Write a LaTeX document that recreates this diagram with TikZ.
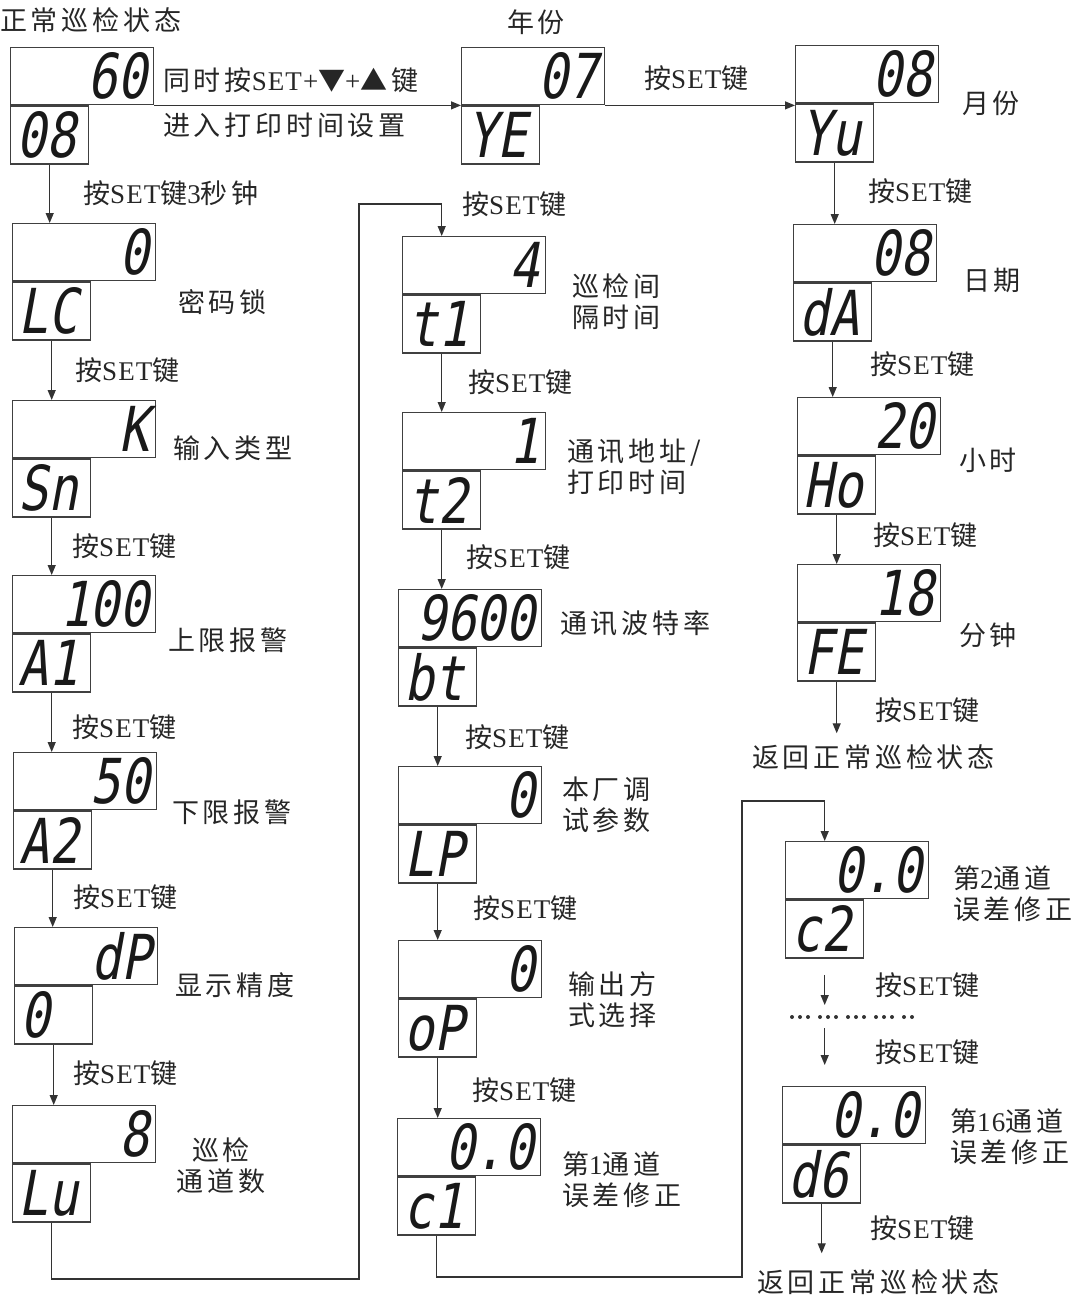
\documentclass[tikz,border=0pt]{standalone}
\usepackage{fontspec}
\setmainfont{Liberation Serif}
\newfontfamily\cjk[LetterSpace=14]{Noto Sans CJK SC}
\newfontfamily\latfont[LetterSpace=4]{Liberation Serif}
\newfontfamily\segfont[FakeStretch=0.8,FakeSlant=0.18]{DejaVu Sans Mono}
\usetikzlibrary{calc, arrows.meta}
\newcommand{\lat}[1]{{\latfont #1}}
\newcommand{\setkey}{按\lat{SET}键}
\newcommand{\readout}[5]{
    % #1: name
    % #2: x of left edge
    % #3: y of top edge
    % #4: upper reading
    % #5: lower reading
    \node[upper] (#1) at (#2,#3) {#4};
    \node[lower] (#1l) at (#1.south west) {#5};
}

\begin{document}
\begin{tikzpicture}[x=1pt, y=-1pt]
    \useasboundingbox (0,0) rectangle (1083,1298);
    % display boxes
    \tikzstyle{upper}=[draw=black!75, line width=1.4pt, anchor=north west, inner xsep=6pt, text width=131pt, align=right, minimum height=57pt, font=\segfont\fontsize{62}{62}\selectfont, text=black!90]
    \tikzstyle{lower}=[draw=black!75, line width=1.4pt, anchor=north west, inner xsep=6pt, text width=66pt, align=left, minimum height=58pt, font=\segfont\fontsize{62}{62}\selectfont, text=black!90]
    % labels
    \tikzstyle{note}=[inner sep=0, anchor=west, align=left, font=\cjk\fontsize{27}{31}\selectfont, text=black!85]
    \tikzstyle{flow}=[draw=black!80, line width=1.2pt, -{Triangle[length=10pt,width=8pt]}]

    % left column
    \readout{run}{10}{47}{60}{08}
    \readout{lc}{12}{223}{0}{LC}
    \readout{sn}{12}{400}{K}{Sn}
    \readout{aa}{12}{575}{100}{A1}
    \readout{ab}{13}{752}{50}{A2}
    \readout{dp}{14}{927}{dP}{0}
    \readout{lu}{12}{1105}{8}{Lu}
    % middle column
    \readout{ta}{402}{236}{4}{t1}
    \readout{tb}{402}{412}{1}{t2}
    \readout{bt}{398}{589}{9600}{bt}
    \readout{lp}{398}{766}{0}{LP}
    \readout{op}{398}{940}{0}{oP}
    \readout{ca}{397}{1118}{0.0}{c1}
    % top row and right column
    \readout{ye}{461}{47}{07}{YE}
    \readout{yu}{795}{45}{08}{Yu}
    \readout{da}{793}{224}{08}{dA}
    \readout{ho}{797}{397}{20}{Ho}
    \readout{fe}{797}{564}{18}{FE}
    \readout{cb}{785}{841}{0.0}{c2}
    \readout{dg}{782}{1086}{0.0}{d6}

    % texts of the left column
    \node[note] (title) at (0,20) {正常巡检状态};
    \node[note] (keysA) at (163,80) {同时按\lat{SET+}▼\lat{+}▲键};
    \node[note] (keysB) at (163,125) {进入打印时间设置};
    \node[note] (hold) at (83,193) {\setkey\lat{3}秒钟};
    \node[note] (lcT) at (178,302) {密码锁};
    \node[note] (k1) at (75,370) {\setkey};
    \node[note] (snT) at (173,448) {输入类型};
    \node[note] (k2) at (72,546) {\setkey};
    \node[note] (aaT) at (168,640) {上限报警};
    \node[note] (k3) at (72,727) {\setkey};
    \node[note] (abT) at (172,812) {下限报警};
    \node[note] (k4) at (73,897) {\setkey};
    \node[note] (dpT) at (175,985) {显示精度};
    \node[note] (k5) at (73,1073) {\setkey};
    \node[note, anchor=center, align=center] (luT) at (221,1166) {巡检\\通道数};
    % texts of the middle column
    \node[note] (k6) at (462,204) {\setkey};
    \node[note] (taT) at (572,302) {巡检间\\隔时间};
    \node[note] (k7) at (468,382) {\setkey};
    \node[note] (tbT) at (567,467) {通讯地址/\\打印时间};
    \node[note] (k8) at (466,557) {\setkey};
    \node[note] (btT) at (560,623) {通讯波特率};
    \node[note] (k9) at (465,737) {\setkey};
    \node[note] (lpT) at (562,805) {本厂调\\试参数};
    \node[note] (k10) at (473,908) {\setkey};
    \node[note] (opT) at (568,1000) {输出方\\式选择};
    \node[note] (k11) at (472,1090) {\setkey};
    \node[note] (caT) at (562,1180) {第\lat{1}通道\\误差修正};
    % texts of the right column
    \node[note, anchor=center] (yeT) at (536,22) {年份};
    \node[note] (k12) at (644,78) {\setkey};
    \node[note] (yuT) at (962,103) {月份};
    \node[note] (k13) at (868,191) {\setkey};
    \node[note] (daT) at (963,280) {日期};
    \node[note] (k14) at (870,364) {\setkey};
    \node[note] (hoT) at (959,460) {小时};
    \node[note] (k15) at (873,535) {\setkey};
    \node[note] (feT) at (959,635) {分钟};
    \node[note] (k16) at (875,710) {\setkey};
    \node[note] (back1) at (752,757) {返回正常巡检状态};
    \node[note] (cbT) at (953,894) {第\lat{2}通道\\误差修正};
    \node[note] (k17) at (875,985) {\setkey};
    \node[note] (k18) at (875,1052) {\setkey};
    \node[note] (dgT) at (950,1137) {第\lat{16}通道\\误差修正};
    \node[note] (k19) at (870,1228) {\setkey};
    \node[note] (back2) at (757,1282) {返回正常巡检状态};

    % turning points of the long connectors
    \coordinate (turnA) at (359,1279);
    \coordinate (turnB) at (359,204);
    \coordinate (turnC) at (742,1277);
    \coordinate (turnD) at (742,801);
    \coordinate (dotsL) at (792,1017);
    \coordinate (dotsR) at (914,1017);

    % connectors
    \draw[flow] (run.south east) -- (run.south east -| ye.west);
    \draw[flow] (ye.south east) -- (ye.south east -| yu.west);
    \draw[flow] (runl.south) -- (runl.south |- lc.north);
    \draw[flow] (lcl.south) -- (lcl.south |- sn.north);
    \draw[flow] (snl.south) -- (snl.south |- aa.north);
    \draw[flow] (aal.south) -- (aal.south |- ab.north);
    \draw[flow] (abl.south) -- (abl.south |- dp.north);
    \draw[flow] (dpl.south) -- (dpl.south |- lu.north);
    \draw[flow] (lul.south) |- (turnA) -- (turnB) -| (tal.north |- ta.north);
    \draw[flow] (tal.south) -- (tal.south |- tb.north);
    \draw[flow] (tbl.south) -- (tbl.south |- bt.north);
    \draw[flow] (btl.south) -- (btl.south |- lp.north);
    \draw[flow] (lpl.south) -- (lpl.south |- op.north);
    \draw[flow] (opl.south) -- (opl.south |- ca.north);
    \draw[flow] (cal.south) |- (turnC) -- (turnD) -| (cbl.north |- cb.north);
    \draw[flow] (yul.south) -- (yul.south |- da.north);
    \draw[flow] (dal.south) -- (dal.south |- ho.north);
    \draw[flow] (hol.south) -- (hol.south |- fe.north);
    \draw[flow, shorten >=11pt] (fel.south) -- (fel.south |- back1.north);
    \draw[flow, shorten <=16pt, shorten >=12pt] (cbl.south) -- (cbl.south |- dotsL);
    \draw[line width=4pt, line cap=round, draw=black!80, dash pattern=on 0pt off 8pt on 0pt off 8pt on 0pt off 12pt] (dotsL) -- (dotsR);
    \draw[flow, shorten <=11pt, shorten >=21pt] (cbl.south |- dotsL) -- (cbl.south |- dg.north);
    \draw[flow, shorten >=16pt] (dgl.south) -- (dgl.south |- back2.north);
\end{tikzpicture}
\end{document}
